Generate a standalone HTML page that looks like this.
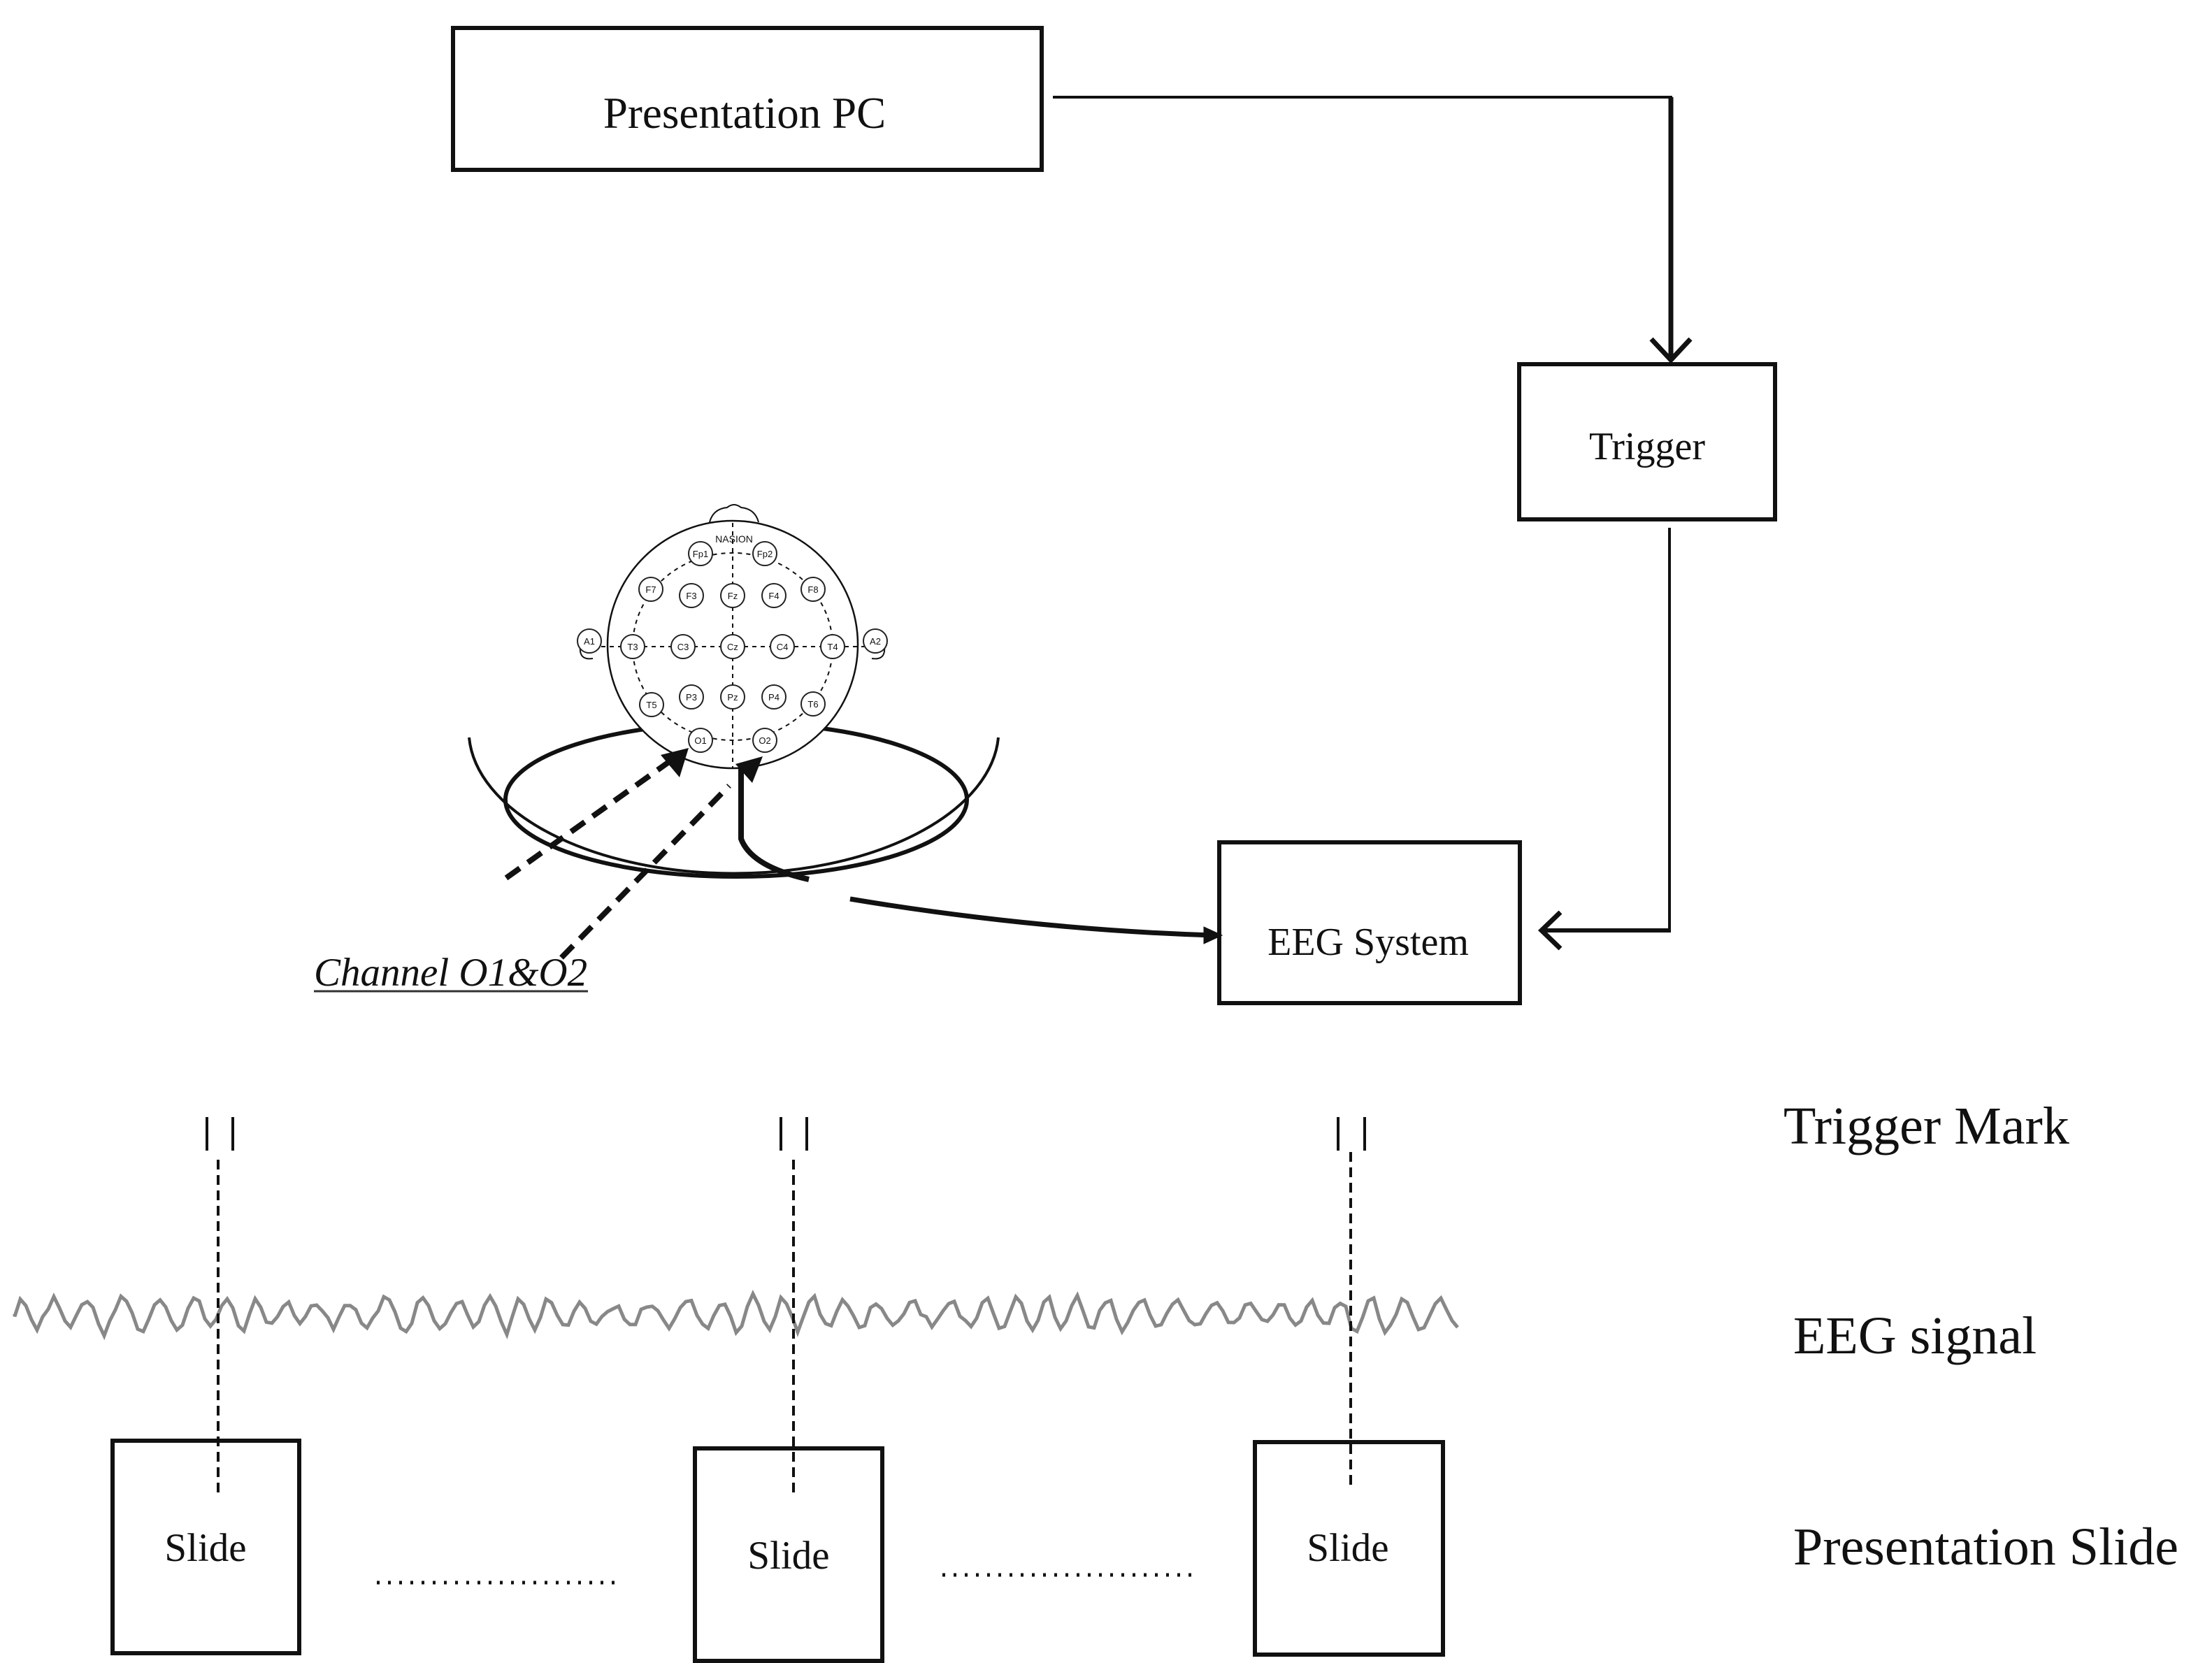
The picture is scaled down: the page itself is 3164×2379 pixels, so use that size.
<!DOCTYPE html>
<html><head><meta charset="utf-8"><style>
html,body{margin:0;padding:0;background:#fff;}
svg{display:block;}
text{font-family:"Liberation Serif",serif;fill:#111;}
</style></head><body>
<svg width="3164" height="2379" viewBox="0 0 3164 2379" xmlns="http://www.w3.org/2000/svg">
<rect width="3164" height="2379" fill="#fff"/>
<g fill="none" stroke="#111">
<rect x="648" y="40" width="842" height="203" stroke-width="6"/>
<polyline points="1506,139 2390,139 2390,512" stroke-width="4"/>
<line x1="2390" y1="139" x2="2390" y2="512" stroke-width="7"/>
<polyline points="2362,485 2390,515 2418,485" stroke-width="7"/>
<rect x="2173" y="521" width="366" height="222" stroke-width="6"/>
<polyline points="2388,755 2388,1331 2210,1331" stroke-width="4"/>
<line x1="2210" y1="1331" x2="2390" y2="1331" stroke-width="6"/>
<polyline points="2232,1305 2205,1331 2232,1357" stroke-width="7"/>
<rect x="1744" y="1205" width="430" height="230" stroke-width="6"/>
<path d="M1216,1286 Q1480,1330 1735,1338" stroke-width="7"/>
<polygon points="1748,1338 1722,1326 1722,1350" fill="#111"/>
<path d="M671,1055 A379,205 0 0 0 1428,1055" stroke-width="4"/>
<path d="M946,1040 A330,110 0 1 0 1160,1040" stroke-width="6"/>
<path d="M1015,747 Q1020,728 1040,726 Q1050,718 1060,726 Q1080,728 1085,747" stroke-width="2"/>
<ellipse cx="1048" cy="922" rx="179" ry="177" stroke-width="2.5" fill="#fff"/>
<ellipse cx="1048" cy="925" rx="143" ry="134" stroke-width="2" stroke-dasharray="6,6"/>
<line x1="1048" y1="748" x2="1048" y2="1100" stroke-width="2" stroke-dasharray="6,6"/>
<line x1="860" y1="925" x2="1236" y2="925" stroke-width="2" stroke-dasharray="6,6"/>
<path d="M830,925 Q828,945 848,942" stroke-width="2"/>
<path d="M1265,925 Q1267,945 1247,942" stroke-width="2"/>
</g>
<text x="1050" y="776" font-size="14" text-anchor="middle" style="font-family:'Liberation Sans',sans-serif" fill="#333">NASION</text>
<g stroke="#222" stroke-width="2" fill="#fff">
<circle cx="1002" cy="792" r="17"/><circle cx="1094" cy="792" r="17"/>
<circle cx="931" cy="843" r="17"/><circle cx="989" cy="852" r="17"/><circle cx="1048" cy="852" r="17"/><circle cx="1107" cy="852" r="17"/><circle cx="1163" cy="843" r="17"/>
<circle cx="843" cy="917" r="17"/><circle cx="905" cy="925" r="17"/><circle cx="977" cy="925" r="17"/><circle cx="1048" cy="925" r="17"/><circle cx="1119" cy="925" r="17"/><circle cx="1191" cy="925" r="17"/><circle cx="1252" cy="917" r="17"/>
<circle cx="932" cy="1008" r="17"/><circle cx="989" cy="997" r="17"/><circle cx="1048" cy="997" r="17"/><circle cx="1107" cy="997" r="17"/><circle cx="1163" cy="1007" r="17"/>
<circle cx="1002" cy="1059" r="17"/><circle cx="1094" cy="1059" r="17"/>
</g>
<g font-size="13" text-anchor="middle" style="font-family:'Liberation Sans',sans-serif" fill="#333">
<text x="1002" y="797" style="font-family:'Liberation Sans',sans-serif">Fp1</text><text x="1094" y="797" style="font-family:'Liberation Sans',sans-serif">Fp2</text>
<text x="931" y="848" style="font-family:'Liberation Sans',sans-serif">F7</text><text x="989" y="857" style="font-family:'Liberation Sans',sans-serif">F3</text><text x="1048" y="857" style="font-family:'Liberation Sans',sans-serif">Fz</text><text x="1107" y="857" style="font-family:'Liberation Sans',sans-serif">F4</text><text x="1163" y="848" style="font-family:'Liberation Sans',sans-serif">F8</text>
<text x="843" y="922" style="font-family:'Liberation Sans',sans-serif">A1</text><text x="905" y="930" style="font-family:'Liberation Sans',sans-serif">T3</text><text x="977" y="930" style="font-family:'Liberation Sans',sans-serif">C3</text><text x="1048" y="930" style="font-family:'Liberation Sans',sans-serif">Cz</text><text x="1119" y="930" style="font-family:'Liberation Sans',sans-serif">C4</text><text x="1191" y="930" style="font-family:'Liberation Sans',sans-serif">T4</text><text x="1252" y="922" style="font-family:'Liberation Sans',sans-serif">A2</text>
<text x="932" y="1013" style="font-family:'Liberation Sans',sans-serif">T5</text><text x="989" y="1002" style="font-family:'Liberation Sans',sans-serif">P3</text><text x="1048" y="1002" style="font-family:'Liberation Sans',sans-serif">Pz</text><text x="1107" y="1002" style="font-family:'Liberation Sans',sans-serif">P4</text><text x="1163" y="1012" style="font-family:'Liberation Sans',sans-serif">T6</text>
<text x="1002" y="1064" style="font-family:'Liberation Sans',sans-serif">O1</text><text x="1094" y="1064" style="font-family:'Liberation Sans',sans-serif">O2</text>
</g>
<g fill="none" stroke="#111">
<line x1="724" y1="1256" x2="968" y2="1082" stroke-width="8" stroke-dasharray="24,14"/>
<line x1="803" y1="1370" x2="1043" y2="1124" stroke-width="8" stroke-dasharray="24,14"/>
<path d="M1157,1258 Q1075,1240 1060,1200 L1060,1100" stroke-width="8"/>
</g>
<polygon points="985,1070 945,1080 972,1112" fill="#111"/>
<polygon points="1091,1082 1052,1093 1076,1120" fill="#111"/>
<text x="1065" y="183" font-size="63" text-anchor="middle">Presentation PC</text>
<text x="2356" y="657" font-size="56" text-anchor="middle">Trigger</text>
<text x="1957" y="1366" font-size="56" text-anchor="middle">EEG System</text>
<text x="449" y="1410" font-size="57" font-style="italic">Channel O1&amp;O2</text>
<line x1="449" y1="1418" x2="841" y2="1418" stroke="#333" stroke-width="3"/>
<g stroke="#111" stroke-width="4">
<line x1="296" y1="1598" x2="296" y2="1646"/><line x1="333" y1="1598" x2="333" y2="1646"/>
<line x1="1117" y1="1598" x2="1117" y2="1646"/><line x1="1154" y1="1598" x2="1154" y2="1646"/>
<line x1="1914" y1="1598" x2="1914" y2="1646"/><line x1="1952" y1="1598" x2="1952" y2="1646"/>
</g>
<path id="eeg" d="" fill="none" stroke="#888" stroke-width="5"/>
<g stroke="#111" stroke-width="4" stroke-dasharray="14,8">
<line x1="312" y1="1659" x2="312" y2="2136"/>
<line x1="1135" y1="1659" x2="1135" y2="2136"/>
<line x1="1932" y1="1648" x2="1932" y2="2125"/>
</g>
<g fill="none" stroke="#111" stroke-width="6">
<rect x="161" y="2061" width="267" height="304"/>
<rect x="994" y="2072" width="268" height="304"/>
<rect x="1795" y="2063" width="269" height="304"/>
</g>
<g stroke="#111" stroke-width="5" stroke-dasharray="4,12">
<line x1="539" y1="2264" x2="882" y2="2264"/>
<line x1="1348" y1="2253" x2="1705" y2="2253"/>
</g>
<text x="294" y="2233" font-size="57" text-anchor="middle">Slide</text>
<text x="1128" y="2244" font-size="57" text-anchor="middle">Slide</text>
<text x="1928" y="2233" font-size="57" text-anchor="middle">Slide</text>
<text x="2551" y="1636" font-size="76">Trigger Mark</text>
<text x="2565" y="1936" font-size="76">EEG signal</text>
<text x="2565" y="2238" font-size="76">Presentation Slide</text>
</svg>
<script>
(function(){
var s=12345;function r(){s=(s*16807)%2147483647;return s/2147483647;}
var d="M21,1880",y,x,amp;
for(x=21;x<=2092;x+=8){
 amp=8+12*Math.abs(Math.sin(x/140))+8*r();
 y=1880+Math.sin(x/7.5+Math.sin(x/60))*amp+(r()-0.5)*10;
 d+=" L"+x+","+y.toFixed(1);
}
document.getElementById("eeg").setAttribute("d",d);
})();
</script>
</body></html>
